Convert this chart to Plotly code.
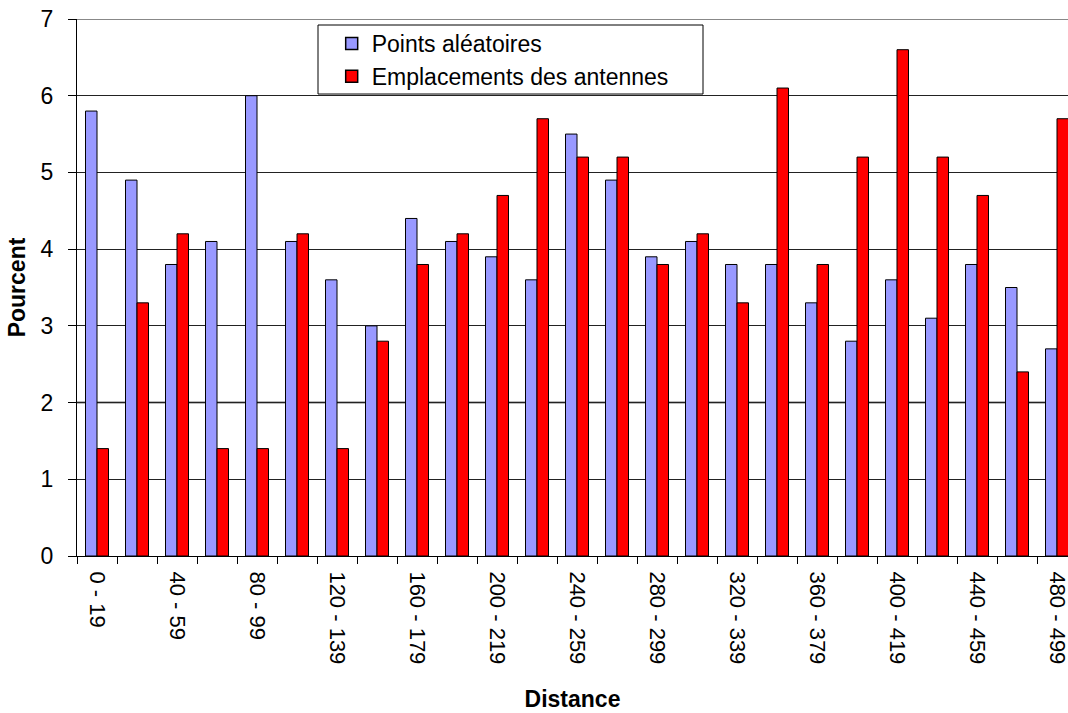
import plotly.graph_objects as go

# Distance classes (m)
categories = [
    "0 - 19", "20 - 39", "40 - 59", "60 - 79", "80 - 99", "100 - 119",
    "120 - 139", "140 - 159", "160 - 179", "180 - 199", "200 - 219",
    "220 - 239", "240 - 259", "260 - 279", "280 - 299", "300 - 319",
    "320 - 339", "340 - 359", "360 - 379", "380 - 399", "400 - 419",
    "420 - 439", "440 - 459", "460 - 479", "480 - 499",
]

# Percentage per distance class
points_aleatoires = [
    5.8, 4.9, 3.8, 4.1, 6.0, 4.1, 3.6, 3.0, 4.4, 4.1, 3.9, 3.6, 5.5,
    4.9, 3.9, 4.1, 3.8, 3.8, 3.3, 2.8, 3.6, 3.1, 3.8, 3.5, 2.7,
]
emplacements_antennes = [
    1.4, 3.3, 4.2, 1.4, 1.4, 4.2, 1.4, 2.8, 3.8, 4.2, 4.7, 5.7, 5.2,
    5.2, 3.8, 4.2, 3.3, 6.1, 3.8, 5.2, 6.6, 5.2, 4.7, 2.4, 5.7,
]

series = [
    ("Points aléatoires", points_aleatoires, "#9999FF"),
    ("Emplacements des antennes", emplacements_antennes, "#FF0000"),
]

# Only every second class is labelled on the axis
tick_text = [c if i % 2 == 0 else "" for i, c in enumerate(categories)]

FONT = "Liberation Sans, Arial, sans-serif"

fig = go.Figure()
for name, values, color in series:
    fig.add_trace(go.Bar(
        name=name, x=categories, y=values, legendgroup=name,
        showlegend=False,
        marker=dict(color=color, line=dict(color="black", width=1)),
    ))
# Square legend keys
for name, values, color in series:
    fig.add_trace(go.Scatter(
        name=name, x=[None], y=[None], mode="markers", legendgroup=name,
        marker=dict(symbol="square", size=12, color=color,
                    line=dict(color="black", width=1.5)),
    ))

fig.update_layout(
    width=1068, height=713,
    margin=dict(l=77, r=0, t=19, b=157, autoexpand=False),
    paper_bgcolor="white", plot_bgcolor="white",
    barmode="group", bargap=0.425, bargroupgap=0,
    font=dict(family=FONT, size=23, color="black"),
    showlegend=True,
    legend=dict(
        x=0.257, y=0.9945, xanchor="left", yanchor="top",
        bgcolor="rgba(0,0,0,0)", borderwidth=0, tracegroupgap=0,
        font=dict(family=FONT, size=23, color="black"),
    ),
    xaxis=dict(
        type="category",
        range=[-0.5, 24.275],
        tickmode="array", tickvals=categories, ticktext=tick_text,
        tickson="boundaries",
        tickangle=90,
        ticks="outside", ticklen=7, tickcolor="black", tickwidth=1,
        ticklabelstandoff=10,
        tickfont=dict(family=FONT, size=22),
        showline=True, linecolor="black", linewidth=1,
        showgrid=False, zeroline=False,
        automargin=False,
        title=dict(text="<b>Distance</b>", standoff=27,
                   font=dict(family=FONT, size=23)),
    ),
    yaxis=dict(
        range=[0, 7], dtick=1,
        ticks="outside", ticklen=8, tickcolor="black", tickwidth=1,
        ticklabelstandoff=10,
        showline=True, linecolor="black", linewidth=1,
        showgrid=True, gridcolor="#222222", gridwidth=1,
        zeroline=False,
        automargin=False,
        title=dict(text="<b>Pourcent</b>", standoff=8,
                   font=dict(family=FONT, size=23)),
    ),
    shapes=[
        # top border of the plot area
        dict(type="line", xref="paper", yref="y", x0=0, x1=1, y0=7, y1=7,
             line=dict(color="#888888", width=2), layer="between"),
        dict(type="line", xref="paper", yref="y", x0=0, x1=1, y0=2, y1=2,
             line=dict(color="#777777", width=2), layer="between"),
        # legend frame
        dict(type="rect", xref="paper", yref="paper",
             x0=0.2432, x1=0.6317, y0=0.8603, y1=0.9888,
             fillcolor="white", line=dict(color="black", width=1),
             layer="above"),
    ],
)

fig.write_html("out.html")
